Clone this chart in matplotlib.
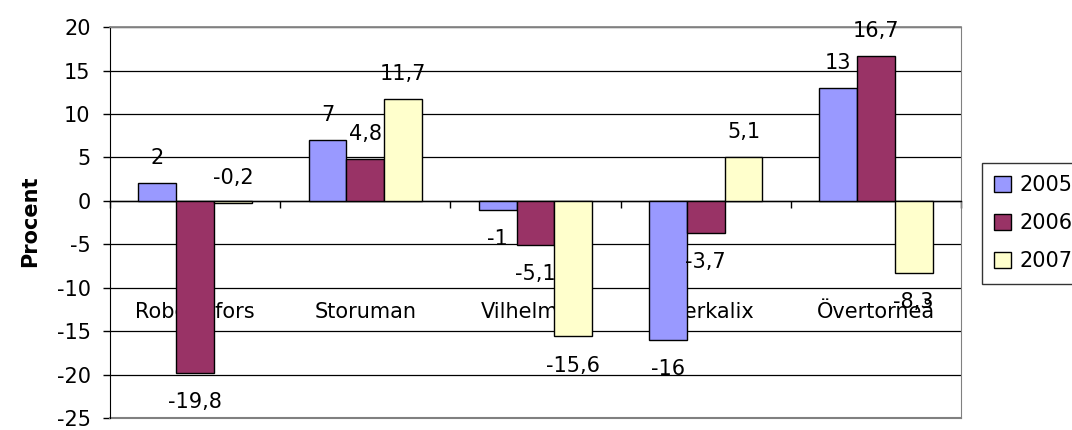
import numpy as np
import matplotlib.pyplot as plt

plt.rcParams['font.family'] = ['DejaVu Sans']
plt.rcParams['axes.unicode_minus'] = False

# data
kommuner = ["Robertsfors", "Storuman", "Vilhelmina", "Överkalix", "Övertorneå"]
years = ["2005", "2006", "2007"]
v2005 = [2, 7, -1, -16, 13]
v2006 = [-19.8, 4.8, -5.1, -3.7, 16.7]
v2007 = [-0.2, 11.7, -15.6, 5.1, -8.3]
colors = ["#9999FF", "#993366", "#FFFFCC"]

series = [v2005, v2006, v2007]

def fmt(v):
    if float(v).is_integer():
        return str(int(v))
    return ("%.1f" % v).replace(".", ",")

fig = plt.figure(figsize=(10.72, 4.3), dpi=100)
ax = fig.add_axes([0.1026, 0.0279, 0.7939, 0.9091])

x = np.arange(len(kommuner))
w = 0.222
fs = 15

for i, (vals, col, yr) in enumerate(zip(series, colors, years)):
    pos = x + (i - 1) * w
    ax.bar(pos, vals, width=w, color=col, edgecolor="black", linewidth=1.0,
           label=yr, zorder=3)
    for px, v in zip(pos, vals):
        # labels above positive bars (and tiny negatives), below negatives
        if v >= 0 or abs(v) < 0.5:
            off = 18
        else:
            off = -21
        ax.annotate(fmt(v), (px, v), xytext=(0, off), textcoords="offset points",
                    ha="center", va="center", fontsize=fs, zorder=5)

# category names sit inside the plot, under the bars
for xi, name in zip(x, kommuner):
    ax.text(xi, -12.8, name, ha="center", va="center", fontsize=fs, zorder=2)

ax.set_xlim(-0.5, len(kommuner) - 0.5)
ax.set_ylim(-25, 20)
ax.set_yticks(np.arange(-25, 21, 5))
ax.tick_params(axis="y", direction="out", length=5, width=1, pad=9, labelsize=fs)

# x axis at zero with ticks at category boundaries
ax.spines["bottom"].set_position(("data", 0))
ax.spines["bottom"].set_linewidth(1)
ax.set_xticks(np.arange(-0.5, len(kommuner), 1.0))
ax.set_xticklabels([])
ax.tick_params(axis="x", direction="out", length=5, width=1)

ax.yaxis.grid(True, color="black", linewidth=0.9, zorder=0)
ax.set_axisbelow(True)
ax.spines["top"].set_color("#808080")
ax.spines["right"].set_color("#808080")
ax.axhline(-25, color="#808080", linewidth=1.5, zorder=1, clip_on=False)
ax.axhline(20, color="#808080", linewidth=1.2, zorder=1, clip_on=False)

fig.text(0.028, 0.485, "Procent", rotation=90, ha="center", va="center",
         fontsize=fs, fontweight="bold")

leg = fig.legend(loc="upper left", bbox_to_anchor=(0.916, 0.621), fontsize=fs,
                 frameon=True, fancybox=False, edgecolor="black",
                 handlelength=0.8, handleheight=0.8, labelspacing=0.86,
                 handletextpad=0.4, borderpad=0.6, borderaxespad=0)
leg.get_frame().set_linewidth(1)

fig.savefig("out.png", dpi=100)
